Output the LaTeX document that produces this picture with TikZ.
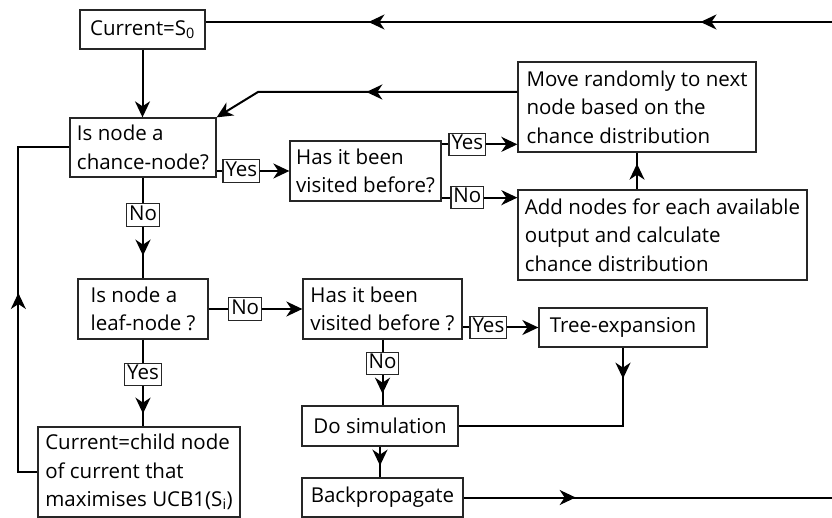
\documentclass[tikz,border=0pt]{standalone}
\usepackage{fontspec}
\setmainfont{Open Sans}
\usetikzlibrary{arrows.meta}
\usetikzlibrary{decorations.markings}

\begin{document}
\begin{tikzpicture}[x=1pt, y=-1pt,
        >={Stealth[length=16pt,width=15pt,inset=5pt]},
        box/.style={draw=black!85, line width=1.3pt, align=left, inner xsep=4pt, inner ysep=0pt,
            font=\fontsize{20.5}{28.5}\selectfont},
        lbl/.style={draw=black!85, line width=1.1pt, fill=white, inner xsep=2.5pt, inner ysep=2pt,
            text height=14.5pt, text depth=4pt, font=\fontsize{20.5}{28.5}\selectfont},
        flow/.style={line width=2pt},
        midtip/.style={postaction={decorate, decoration={markings, mark=at position #1 with {\arrow{>}}}}}]
        \useasboundingbox (0,0) rectangle (832,518);

        \node[box, minimum width=125pt, minimum height=39pt] (cur) at (142.5,29.5) {Current=S\textsubscript{0}};
        \node[box, minimum width=146pt, minimum height=59pt] (chance) at (143,147.5) {Is node a\\chance-node?};
        \node[box, minimum width=151pt, minimum height=60pt] (visit1) at (365.5,171) {Has it been\\visited before?};
        \node[box, minimum width=238pt, minimum height=90pt] (move) at (637,107) {Move randomly to next\\node based on the\\chance distribution};
        \node[box, minimum width=289pt, minimum height=90pt] (add) at (662.5,235) {Add nodes for each available\\output and calculate\\chance distribution};
        \node[box, minimum width=130pt, minimum height=60pt] (leaf) at (143,309) {Is node a\\leaf-node ?};
        \node[box, minimum width=159pt, minimum height=60pt] (visit2) at (382.5,309) {Has it been\\visited before ?};
        \node[box, minimum width=168pt, minimum height=39pt] (tree) at (623,327.5) {Tree-expansion};
        \node[box, minimum width=156pt, minimum height=40pt] (sim) at (380,426) {Do simulation};
        \node[box, minimum width=161pt, minimum height=39pt] (back) at (382.5,497.5) {Backpropagate};
        \node[box, minimum width=202pt, minimum height=90pt] (child) at (139,472) {Current=child node\\of current that\\maximises UCB1(S\textsubscript{i})};

        \coordinate (topR) at (832,22);
        \coordinate (botR) at (832,497.5);
        \coordinate (bend) at (258,92);

        \draw[flow, midtip=0.21, midtip=0.74] (topR) -- (topR -| cur.east);
        \draw[flow, ->] (cur.south) -- (cur.south |- chance.north);
        \draw[flow, ->] (visit1.west -| chance.east) -- node[lbl, pos=0.34] {Yes} (visit1.west);
        \draw[flow, ->] ([yshift=-4pt]visit1.north east) -- node[lbl, pos=0.34] {Yes} ([yshift=-4pt]visit1.north east -| move.west);
        \draw[flow, ->] ([yshift=4pt]visit1.south east) -- node[lbl, pos=0.34] {No} ([yshift=4pt]visit1.south east -| add.west);
        \draw[flow, midtip=0.7] (move.south |- add.north) -- (move.south);
        \draw[flow, ->, midtip=151pt] (move.west |- bend) -- (bend) -- (chance.north east);
        \draw[flow, midtip=78pt] (chance.south) -- node[lbl, pos=0.37] {No} (chance.south |- leaf.north);
        \draw[flow, ->] (leaf.east) -- node[lbl, pos=0.39] {No} (visit2.west);
        \draw[flow, ->] (tree.west -| visit2.east) -- node[lbl, pos=0.34] {Yes} (tree.west);
        \draw[flow, midtip=54pt] (visit2.south) -- node[lbl, pos=0.36] {No} (visit2.south |- sim.north);
        \draw[flow, midtip=31pt] (tree.south) |- (sim.east);
        \draw[flow, midtip=19pt] (sim.south) -- (sim.south |- back.north);
        \draw[flow, midtip=112pt] (back.east) -- (botR);
        \draw[flow, midtip=74pt] (leaf.south) -- node[lbl, pos=0.40] {Yes} (leaf.south |- child.north);
        \draw[flow, midtip=198pt] (child.west) -- ++(-19,0) |- (chance.west);
    \end{tikzpicture}
\end{document}
